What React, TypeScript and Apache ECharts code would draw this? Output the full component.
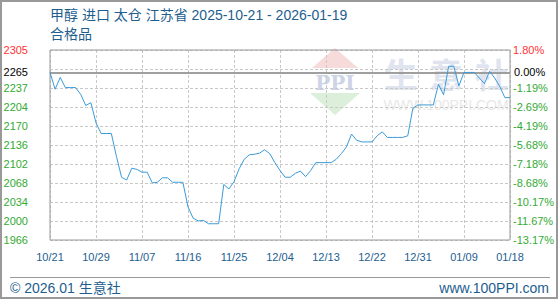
import React, { useEffect, useRef } from 'react';
import * as echarts from 'echarts';

const titleText = '甲醇 进口 太仓 江苏省 2025-10-21 - 2026-01-19';
const subtitleText = '合格品';
const footerLeft = '© 2026.01 生意社';
const footerRight = 'www.100PPI.com';

const prices = [
  2265, 2235, 2256, 2238, 2238, 2238, 2226, 2206, 2211, 2175,
  2156, 2156, 2156, 2115, 2078, 2073, 2094, 2092, 2087, 2087,
  2068, 2069, 2077, 2077, 2069, 2069, 2069, 2025, 2005, 2000,
  2001, 1995, 1995, 1995, 2065, 2057, 2070, 2093, 2110, 2118,
  2119, 2121, 2127, 2120, 2104, 2090, 2078, 2078, 2085, 2089,
  2079, 2090, 2104, 2104, 2104, 2104, 2110, 2120, 2132, 2155,
  2144, 2141, 2141, 2141, 2152, 2159, 2149, 2149, 2149, 2149,
  2152, 2201, 2207, 2207, 2207, 2207, 2244, 2225, 2276, 2276,
  2241, 2265, 2265, 2265, 2255, 2245, 2267, 2255, 2240, 2220,
  2220,
];

const xTickLabels = ['10/21', '10/29', '11/07', '11/16', '11/25', '12/04', '12/13', '12/22', '12/31', '01/09', '01/18'];
const leftTickLabels = ['1966', '2000', '2034', '2068', '2102', '2136', '2170', '2204', '2237', '', '2305'];
const rightTickLabels = ['-13.17%', '-11.67%', '-10.17%', '-8.68%', '-7.18%', '-5.68%', '-4.19%', '-2.69%', '-1.19%', '', '1.80%'];
const baseValue = 2265;
const baseLabelLeft = '2265';
const baseLabelRight = '0.00%';
const yMin = 1966;
const yMax = 2305;

const FONT = 'Arial, "Liberation Sans", "Noto Sans CJK SC", sans-serif';
const GREEN = '#33aa33';
const RED = '#ff3333';
const BLUE_TEXT = '#1d5e8f';

export default function App() {
  const ref = useRef<HTMLDivElement>(null);
  useEffect(() => {
    if (!ref.current) return;
    const chart = echarts.init(ref.current, null, { renderer: 'svg' });
    const categories = prices.map((_, i) => String(i));
    const step = (categories.length - 1) / (xTickLabels.length - 1);
    const gridDash = { color: '#c8c8c8', type: [3, 2] as any, width: 1 };
    chart.setOption({
      animation: false,
      backgroundColor: '#fff',
      textStyle: { fontFamily: FONT },
      grid: { left: 50, top: 50, width: 460, height: 190, show: true, borderColor: '#999', borderWidth: 1, z: 1 },
      xAxis: {
        type: 'category',
        data: categories,
        boundaryGap: false,
        axisLine: { show: false },
        axisTick: { show: false },
        axisLabel: {
          interval: step - 1,
          margin: 11,
          color: BLUE_TEXT,
          fontSize: 11,
          fontFamily: FONT,
          formatter: (_v: string, i: number) => xTickLabels[Math.round(i / step)] ?? '',
        },
        splitLine: { show: true, interval: step - 1, lineStyle: gridDash },
      },
      yAxis: [
        { type: 'value', min: yMin, max: yMax, show: false },
        {
          type: 'value', min: 0, max: leftTickLabels.length - 1, interval: 1, position: 'left',
          axisLine: { show: false }, axisTick: { show: false },
          splitLine: { show: true, lineStyle: gridDash },
          axisLabel: {
            margin: 22, fontSize: 11, fontFamily: FONT,
            formatter: (v: number) => leftTickLabels[Math.round(v)],
            color: (v: any) => (Math.round(Number(v)) === leftTickLabels.length - 1 ? RED : GREEN),
          },
        },
        {
          type: 'value', min: 0, max: rightTickLabels.length - 1, interval: 1, position: 'right',
          axisLine: { show: false }, axisTick: { show: false }, splitLine: { show: false },
          axisLabel: {
            margin: 3, fontSize: 11, fontFamily: FONT,
            formatter: (v: number) => rightTickLabels[Math.round(v)],
            color: (v: any) => (Math.round(Number(v)) === rightTickLabels.length - 1 ? RED : GREEN),
          },
        },
      ],
      series: [
        {
          type: 'line',
          xAxisIndex: 0,
          yAxisIndex: 0,
          data: prices,
          showSymbol: false,
          symbol: 'none',
          lineStyle: { color: '#3a9ad8', width: 1 },
          z: 5,
          markLine: {
            symbol: 'none',
            silent: true,
            lineStyle: { color: '#999', type: 'solid', width: 1.5 },
            data: [
              { yAxis: baseValue, label: { position: 'start', formatter: baseLabelLeft, distance: 22, color: '#000', fontSize: 11, fontFamily: FONT } },
              { yAxis: baseValue, label: { position: 'end', formatter: baseLabelRight, distance: 4, color: '#000', fontSize: 11, fontFamily: FONT } },
            ],
          },
        },
      ],
      graphic: [
        { type: 'rect', z: -10, shape: { x: 1, y: 1, width: 556, height: 297 }, style: { fill: 'none', stroke: '#999', lineWidth: 2 } },
        // watermark
        { type: 'polygon', z: -5, shape: { points: [[335, 48], [312, 68], [358, 68]] }, style: { fill: '#f7dada' } },
        { type: 'text', z: -5, x: 335, y: 83, style: { text: 'PPI', font: 'bold 20px "DejaVu Serif", serif', fill: '#cdd4e8', align: 'center', verticalAlign: 'middle' } },
        { type: 'polygon', z: -5, shape: { points: [[310, 93], [360, 93], [335, 115]] }, style: { fill: '#dbefdb' } },
        { type: 'text', z: -5, x: 401, y: 73, style: { text: '生', font: 'bold 34px "Noto Sans CJK SC", sans-serif', fill: '#dfe4ef', align: 'center', verticalAlign: 'middle' } },
        { type: 'text', z: -5, x: 446, y: 73, style: { text: '意', font: 'bold 34px "Noto Sans CJK SC", sans-serif', fill: '#dfe4ef', align: 'center', verticalAlign: 'middle' } },
        { type: 'text', z: -5, x: 492, y: 73, style: { text: '社', font: 'bold 34px "Noto Sans CJK SC", sans-serif', fill: '#dfe4ef', align: 'center', verticalAlign: 'middle' } },
        { type: 'text', z: -5, x: 446, y: 105, style: { text: 'WWW.100PPI.COM', font: '14px Arial, "Liberation Sans", sans-serif', fill: '#e8e8e8', align: 'center', verticalAlign: 'middle' } },
        // title
        { type: 'text', x: 50, y: 15, style: { text: titleText, font: `14px ${FONT}`, fill: BLUE_TEXT, verticalAlign: 'middle' } },
        { type: 'text', x: 50, y: 34, style: { text: subtitleText, font: `14px ${FONT}`, fill: BLUE_TEXT, verticalAlign: 'middle' } },
        // footer
        { type: 'line', shape: { x1: 10, y1: 277.5, x2: 550, y2: 277.5 }, style: { stroke: '#999', lineWidth: 1 } },
        { type: 'text', x: 10, y: 288, style: { text: footerLeft, font: `14px ${FONT}`, fill: BLUE_TEXT, verticalAlign: 'middle' } },
        { type: 'text', x: 549, y: 288, style: { text: footerRight, font: `14px ${FONT}`, fill: BLUE_TEXT, align: 'right', verticalAlign: 'middle' } },
      ],
    });
    return () => chart.dispose();
  }, []);
  return <div ref={ref} style={{ position: 'absolute', left: 0, top: 0, width: 560, height: 300 }} />;
}
